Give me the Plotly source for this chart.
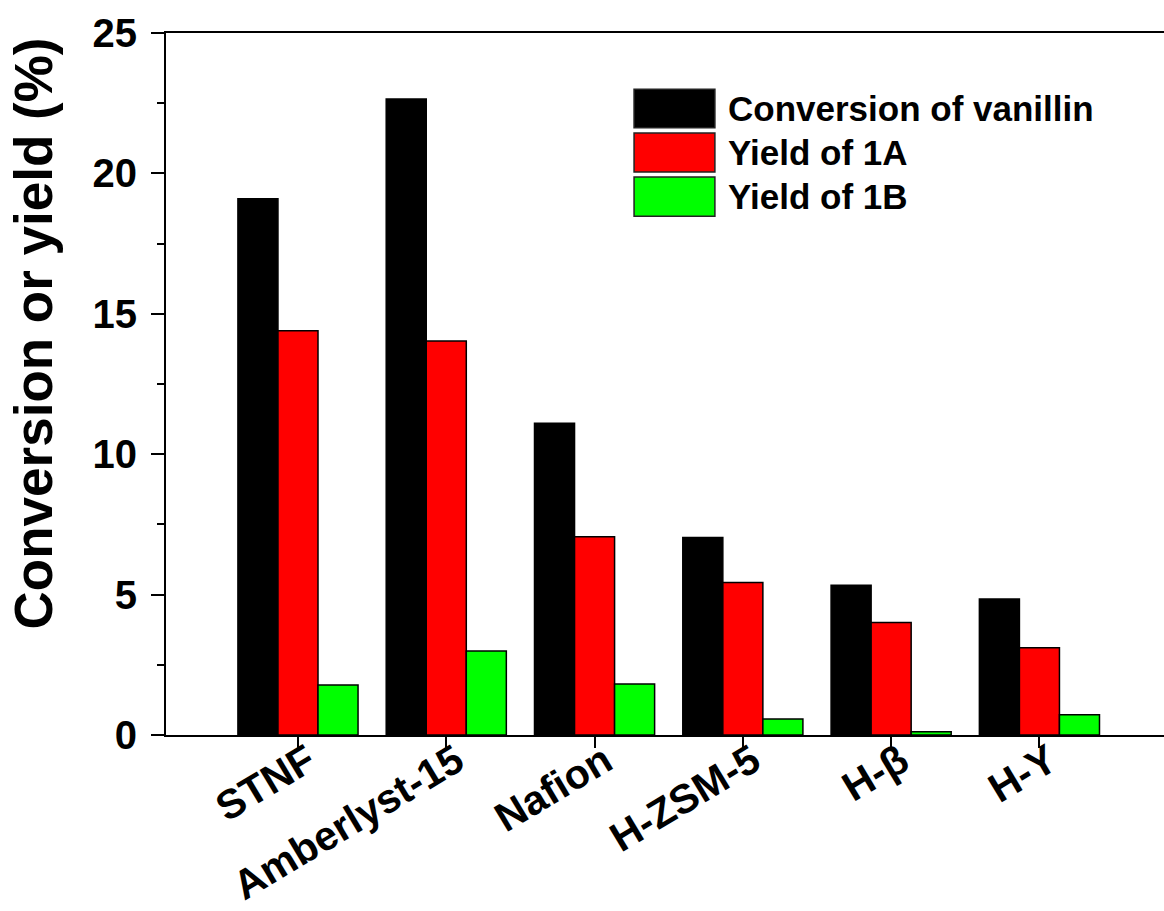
import plotly.graph_objects as go

categories = ["STNF", "Amberlyst-15", "Nafion", "H-ZSM-5", "H-β", "H-Y"]
conversion = [19.1, 22.65, 11.1, 7.03, 5.33, 4.84]
yield_1a = [14.4, 14.03, 7.06, 5.43, 4.01, 3.11]
yield_1b = [1.78, 2.99, 1.82, 0.57, 0.12, 0.72]
series_names = ["Conversion of vanillin", "Yield of 1A", "Yield of 1B"]
colors = ["#000000", "#ff0000", "#00ff00"]
y_ticks = [0, 5, 10, 15, 20, 25]

FONT = "Liberation Sans, Arial, sans-serif"

fig = go.Figure()
for name, vals, col in zip(series_names, [conversion, yield_1a, yield_1b], colors):
    fig.add_trace(go.Bar(
        x=categories, y=vals, name=name,
        marker=dict(color=col, line=dict(color="#000000", width=1.5)),
        showlegend=False,
    ))

# Custom legend (large swatches like the reference)
box_x0, box_x1 = 0.469, 0.550
rows = [(0.920, 0.865), (0.8575, 0.802), (0.795, 0.739)]
for (y1, y0), name, col in zip(rows, series_names, colors):
    fig.add_shape(type="rect", xref="paper", yref="paper",
                  x0=box_x0, x1=box_x1, y0=y0, y1=y1,
                  fillcolor=col, line=dict(color="#222222", width=1.5))
    fig.add_annotation(xref="paper", yref="paper", x=0.561, y=(y0 + y1) / 2,
                       text=name, showarrow=False, xanchor="left", yanchor="middle",
                       font=dict(family=FONT, size=35, color="#000000", weight="bold"))

# Y-axis title (placed like the reference, slightly above the plot centre)
fig.add_annotation(xref="paper", yref="paper", x=-0.1333, y=0.572,
                   text="Conversion or yield (%)", textangle=-90, showarrow=False,
                   xanchor="center", yanchor="middle",
                   font=dict(family=FONT, size=53, color="#000000", weight="bold"))

fig.update_layout(
    width=1164, height=911,
    margin=dict(l=166, r=0, t=33, b=176, autoexpand=False),
    paper_bgcolor="white", plot_bgcolor="white",
    barmode="group", bargap=0.19, bargroupgap=0,
    font=dict(family=FONT, color="#000000", weight="bold"),
)
fig.update_xaxes(
    range=[-0.89, 5.84], automargin=False,
    showline=True, linecolor="#000000", linewidth=2, mirror=True,
    ticks="outside", ticklen=11, tickwidth=2, tickcolor="#000000",
    tickangle=-31, ticklabelstandoff=-27, ticklabelshift=10,
    tickfont=dict(family=FONT, size=41, color="#000000", weight="bold"),
    showgrid=False, zeroline=False,
)
fig.update_yaxes(
    range=[0, 25], tickvals=y_ticks, ticktext=[str(v) for v in y_ticks],
    automargin=False,
    showline=True, linecolor="#000000", linewidth=2,
    ticks="outside", ticklen=13, tickwidth=2, tickcolor="#000000",
    ticklabelstandoff=6,
    minor=dict(dtick=2.5, ticks="outside", ticklen=7, tickwidth=2, tickcolor="#000000", showgrid=False),
    tickfont=dict(family=FONT, size=40, color="#000000", weight="bold"),
    showgrid=False, zeroline=False,
)

fig.write_html("out.html", config={"displayModeBar": False},
               post_script="document.body.style.margin='0';document.body.style.overflow='hidden';")
